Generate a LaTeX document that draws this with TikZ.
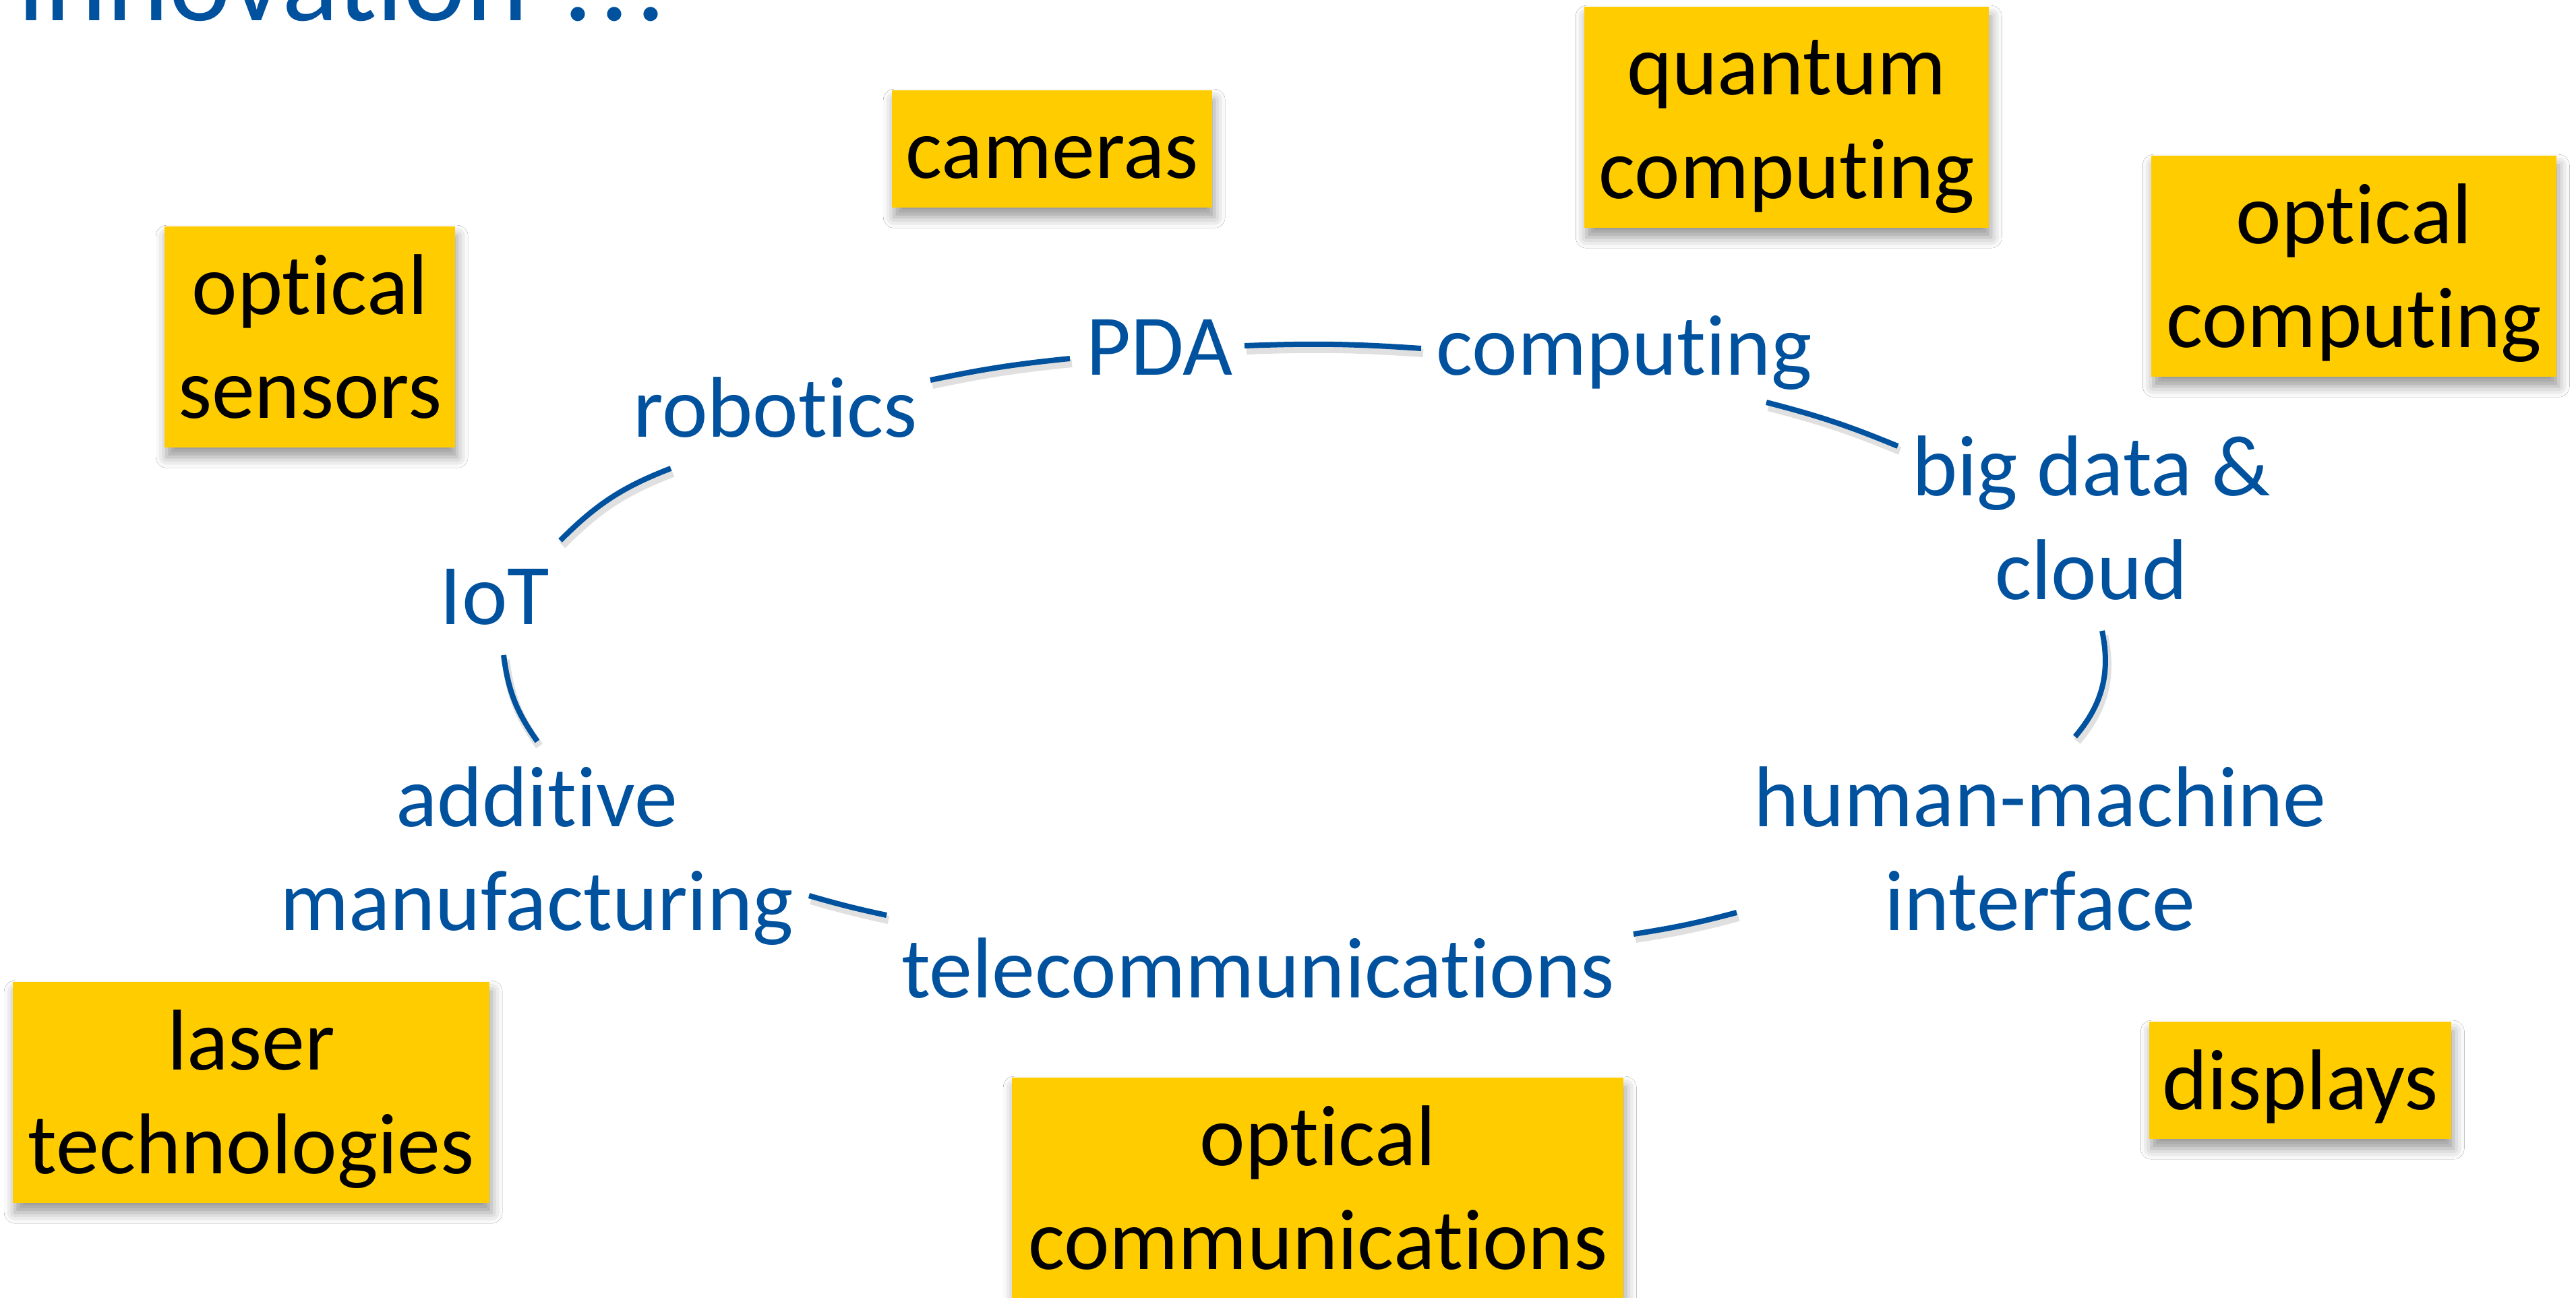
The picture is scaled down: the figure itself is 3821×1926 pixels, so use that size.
\documentclass[tikz,border=0pt]{standalone}
\usepackage{fontspec}
\setmainfont{Carlito}[Ligatures=NoCommon]
\usetikzlibrary{shadows.blur}
\definecolor{ublue}{RGB}{0,81,158}
\definecolor{uyellow}{RGB}{255,204,0}
\newcommand\tstrut{\rule{0pt}{130pt}}
\newcommand\bstrut{\rule[-44pt]{0pt}{44pt}}
\newcommand\lstrut{\rule{0pt}{110pt}}
\begin{document}
\begin{tikzpicture}[x=1pt,y=-1pt,
  lbl/.style={font=\fontsize{128pt}{154pt}\selectfont, text=ublue, inner sep=0pt},
  lbltwo/.style={font=\fontsize{128pt}{154pt}\selectfont, text=ublue, inner sep=0pt, align=center},
  ybox/.style={font=\fontsize{128pt}{154pt}\selectfont, text=black, fill=uyellow, inner sep=0pt,
    align=center, anchor=north west,
    blur shadow={shadow xshift=3pt, shadow yshift=-14pt, shadow blur radius=16pt, shadow opacity=40}},
  conn/.style={draw=ublue, line width=8pt},
  connsh/.style={draw=black, opacity=0.12, line width=12pt, transform canvas={xshift=3pt, yshift=-7pt}},
]
\useasboundingbox (0,0) rectangle (3821,1926);
\clip (0,0) rectangle (3821,1926);
\fill[white] (0,0) rectangle (3821,1926);

% title (cut at the top edge)
\node[lbl, font=\fontsize{175pt}{200pt}\selectfont, anchor=base west] (title) at (26,31)
  {innovation\kern13pt\ .\kern10pt.\kern10pt.};

% yellow boxes
\node[ybox, minimum width=475] (cam) at (1323,134) {\tstrut cameras\bstrut};
\node[ybox, minimum width=600] (qc) at (2350,10) {\tstrut quantum\\computing\bstrut};
\node[ybox, minimum width=601] (oc) at (3191,231) {\tstrut optical\\computing\bstrut};
\node[ybox, minimum width=431] (os) at (244,336) {\tstrut optical\\sensors\bstrut};
\node[ybox, minimum width=707] (lt) at (19,1457) {\tstrut laser\\technologies\bstrut};
\node[ybox, minimum width=907] (ocm) at (1501,1599) {\tstrut optical\\communications\bstrut};
\node[ybox, minimum width=448] (disp) at (3188,1516) {\tstrut displays\bstrut};

% cycle labels
\node[lbl, anchor=base] (pda) at (1720,556) {PDA};
\node[lbl, anchor=base] (comp) at (2409,556) {computing};
\node[lbl, anchor=base] (rob) at (1150,648) {robotics};
\node[lbl, anchor=base] (iot) at (734,926) {IoT};
\node[lbl, anchor=base] (tele) at (1866,1480) {telecommunications};
\node[lbltwo, anchor=north] (big) at (3102,625) {\lstrut big data \&\\cloud};
\node[lbltwo, anchor=north] (add) at (796,1116) {\lstrut additive\\manufacturing};
\node[lbltwo, anchor=north] (hmi) at (3026,1116) {\lstrut human-machine\\interface};

% connector end points
\coordinate (rob-pda) at (1380,564);   \coordinate (pda-rob) at (1587,532);
\coordinate (pda-comp) at (1846,513);  \coordinate (comp-pda) at (2108,517);
\coordinate (comp-big) at (2620,597);  \coordinate (big-comp) at (2815,662);
\coordinate (big-hmi) at (3118,936);   \coordinate (hmi-big) at (3078,1093);
\coordinate (hmi-tele) at (2576,1354); \coordinate (tele-hmi) at (2423,1386);
\coordinate (tele-add) at (1315,1358); \coordinate (add-tele) at (1200,1329);
\coordinate (add-iot) at (797,1100);   \coordinate (iot-add) at (747,972);
\coordinate (iot-rob) at (831,802);    \coordinate (rob-iot) at (995,695);

% shadows of connectors
\foreach \a/\b/\t in {rob-pda/pda-rob/3, pda-comp/comp-pda/3, comp-big/big-comp/4,
  big-hmi/hmi-big/26, hmi-tele/tele-hmi/3, tele-add/add-tele/2, add-iot/iot-add/14, iot-rob/rob-iot/12}
  \draw[connsh] (\a) to[bend left=\t] (\b);
% connectors
\draw[conn] (rob-pda) to[bend left=3] (pda-rob);
\draw[conn] (pda-comp) to[bend left=3] (comp-pda);
\draw[conn] (comp-big) to[bend left=4] (big-comp);
\draw[conn] (big-hmi) to[bend left=26] (hmi-big);
\draw[conn] (hmi-tele) to[bend left=3] (tele-hmi);
\draw[conn] (tele-add) to[bend left=2] (add-tele);
\draw[conn] (add-iot) to[bend left=14] (iot-add);
\draw[conn] (iot-rob) to[bend left=12] (rob-iot);
\end{tikzpicture}
\end{document}
